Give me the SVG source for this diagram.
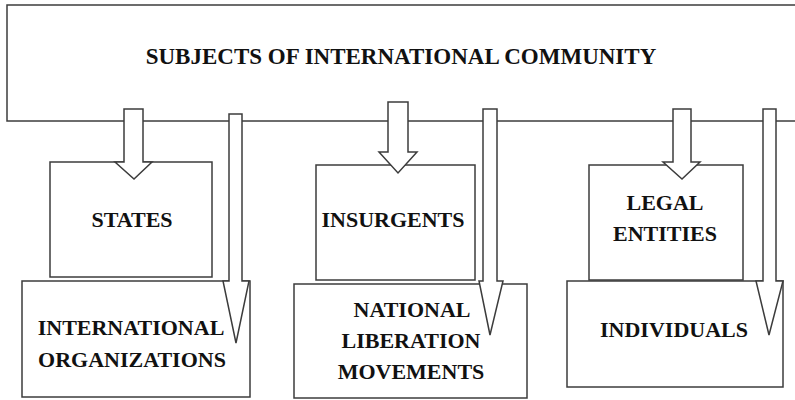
<svg xmlns="http://www.w3.org/2000/svg" width="795" height="400" viewBox="0 0 795 400">
  <style>
    .box { fill: #ffffff; stroke: #3c3c3c; stroke-width: 1.5; }
    .arrow { fill: #ffffff; stroke: #3c3c3c; stroke-width: 1.5; stroke-linejoin: miter; }
    text { font-family: 'Liberation Serif', 'Times New Roman', Times, serif; font-weight: 700; font-size: 22px; fill: #111111; text-anchor: middle; }
    .title { font-size: 23px; }
  </style>
  <rect width="795" height="400" fill="#ffffff"/>

  <g id="subjects">
    <rect class="box" x="7" y="5" width="800" height="116"/>
    <text class="title" x="401" y="64">SUBJECTS OF INTERNATIONAL COMMUNITY</text>
  </g>

  <g id="international-organizations">
    <rect class="box" x="22" y="281" width="228" height="116"/>
    <text x="131" y="335">INTERNATIONAL</text>
    <text x="132" y="367">ORGANIZATIONS</text>
  </g>
  <g id="states">
    <rect class="box" x="50" y="162" width="162" height="115"/>
    <text x="132" y="227">STATES</text>
  </g>

  <g id="national-liberation-movements">
    <rect class="box" x="294" y="284" width="233" height="114"/>
    <text x="412" y="317">NATIONAL</text>
    <text x="411" y="348">LIBERATION</text>
    <text x="411" y="379">MOVEMENTS</text>
  </g>
  <g id="insurgents">
    <rect class="box" x="316" y="165" width="159" height="115"/>
    <text x="393" y="227">INSURGENTS</text>
  </g>

  <g id="individuals">
    <rect class="box" x="567" y="281" width="216" height="106"/>
    <text x="674" y="337">INDIVIDUALS</text>
  </g>
  <g id="legal-entities">
    <rect class="box" x="589" y="165" width="154" height="115"/>
    <text x="665" y="210">LEGAL</text>
    <text x="665" y="241">ENTITIES</text>
  </g>

  <g id="connectors">
    <!-- short block arrows into the upper boxes -->
    <polygon class="arrow" points="124,109 143,109 143,162 152,162 134,179 115,162 124,162"/>
    <polygon class="arrow" points="388,102 408,102 408,152 417,152 398,173 379,152 388,152"/>
    <polygon class="arrow" points="673,109 691,109 691,162 700,162 682,179 663,162 673,162"/>
    <!-- long block arrows into the lower boxes -->
    <polygon class="arrow" points="229,114 242,114 242,281 249,281 236,343 223,281 229,281"/>
    <polygon class="arrow" points="483,109 497,109 497,281 503,281 490,335 479,281 483,281"/>
    <polygon class="arrow" points="763,109 776,109 776,281 783,281 769,335 756,281 763,281"/>
  </g>
</svg>
